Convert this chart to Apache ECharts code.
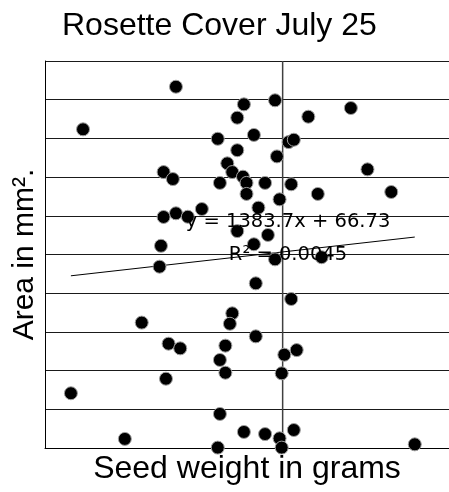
<!DOCTYPE html>
<html>
<head>
<meta charset="utf-8">
<script src="https://cdn.jsdelivr.net/npm/echarts@6/dist/echarts.min.js"></script>
<style>
html,body{margin:0;padding:0;background:#fff;}
#chart{width:449px;height:492px;}
</style>
</head>
<body>
<div id="chart"></div>
<script>
// Data
const seedWeight = [0.02051,0.01660,0.02337,0.02468,0.02787,0.02309,0.02608,0.02227,0.02379,0.02525,0.02547,0.02309,0.02476,0.02857,0.01999,0.02038,0.02267,0.02288,0.02333,0.02236,0.02348,0.02426,0.02536,0.02348,0.02648,0.02957,0.02487,0.02398,0.02160,0.02051,0.02101,0.01999,0.02309,0.02438,0.01988,0.02379,0.01982,0.02468,0.02664,0.02387,0.02536,0.01907,0.02288,0.02278,0.02387,0.02020,0.02069,0.02259,0.02236,0.02507,0.02559,0.02009,0.02259,0.02496,0.01609,0.02236,0.01836,0.02337,0.02426,0.02547,0.02487,0.02227,0.02496,0.03056];
const area = [186.7,164.7,177.6,179.7,175.7,170.7,171.2,159.8,161.8,158.1,159.3,153.9,150.7,144.0,142.6,139.0,147.1,142.6,140.2,137.0,137.0,137.0,136.3,131.3,131.3,132.3,128.5,124.2,123.5,121.3,119.5,119.4,112.1,110.1,104.5,105.3,93.7,97.5,98.6,85.1,77.0,64.8,69.6,64.2,57.7,53.9,51.5,52.9,45.5,48.2,50.6,35.8,38.9,38.6,28.3,17.6,4.7,8.3,7.2,9.3,5.0,0.2,0.2,1.9];
const trendSlope = 1383.7;
const trendIntercept = 66.73;
const trendText = ['y = 1383.7x + 66.73', 'R\u00b2 = 0.0045'];
const titleText = 'Rosette Cover July 25';
const xName = 'Seed weight in grams';
const yName = 'Area in mm\u00b2.';
const xRange = [0.015, 0.032];
const yRange = [0, 200, 20];
const axisCrossX = 0.025;

const points = seedWeight.map((x, i) => [x, area[i]]);
const xMin = Math.min(...seedWeight), xMax = Math.max(...seedWeight);
const trend = [xMin, xMax].map(x => [x, trendSlope * x + trendIntercept]);
const crossLine = [[axisCrossX, yRange[0]], [axisCrossX, yRange[1]]];

const chart = echarts.init(document.getElementById('chart'), null, {renderer: 'canvas'});
const sans = '"Liberation Sans", Arial, sans-serif';
chart.setOption({
  animation: false,
  backgroundColor: '#fff',
  title: {
    text: titleText,
    left: 62, top: 10, padding: 0,
    textStyle: {fontFamily: sans, fontSize: 32, fontWeight: 'normal', color: '#000'}
  },
  grid: {left: 45, top: 61, right: -2, bottom: 44, containLabel: false},
  xAxis: {
    type: 'value', min: xRange[0], max: xRange[1],
    name: xName, nameLocation: 'middle', nameGap: 5,
    nameTextStyle: {fontFamily: sans, fontSize: 32, color: '#000', verticalAlign: 'top'},
    axisLine: {show: true, lineStyle: {color: '#000', width: 1}},
    axisTick: {show: false}, axisLabel: {show: false}, splitLine: {show: false}
  },
  yAxis: {
    type: 'value', min: yRange[0], max: yRange[1], interval: yRange[2],
    name: yName, nameLocation: 'middle', nameGap: 5, nameRotate: 90,
    nameTextStyle: {fontFamily: sans, fontSize: 30, color: '#000', verticalAlign: 'bottom'},
    axisLine: {show: true, lineStyle: {color: '#000', width: 1}},
    axisTick: {show: false}, axisLabel: {show: false},
    splitLine: {show: true, lineStyle: {color: '#1a1a1a', width: 1}}
  },
  series: [
    {
      type: 'line', data: crossLine, symbol: 'none', silent: true, z: 1,
      lineStyle: {color: '#404040', width: 1.5}
    },
    {
      type: 'line', data: trend, symbol: 'none', silent: true, z: 3,
      lineStyle: {color: '#000', width: 1}
    },
    {
      type: 'scatter', data: points, symbol: 'circle', symbolSize: 13, clip: false, z: 4,
      itemStyle: {color: '#000', borderColor: '#a0a0a0', borderWidth: 1, opacity: 1}
    }
  ],
  graphic: [
    {type: 'text', x: 288, y: 222, z: 100,
     style: {text: trendText[0], font: '19.5px "DejaVu Sans"', fill: '#000', align: 'center', verticalAlign: 'middle', textAlign: 'center', textVerticalAlign: 'middle'}},
    {type: 'text', x: 288, y: 255, z: 100,
     style: {text: trendText[1], font: '19.5px "DejaVu Sans"', fill: '#000', align: 'center', verticalAlign: 'middle', textAlign: 'center', textVerticalAlign: 'middle'}}
  ]
});
</script>
</body>
</html>
